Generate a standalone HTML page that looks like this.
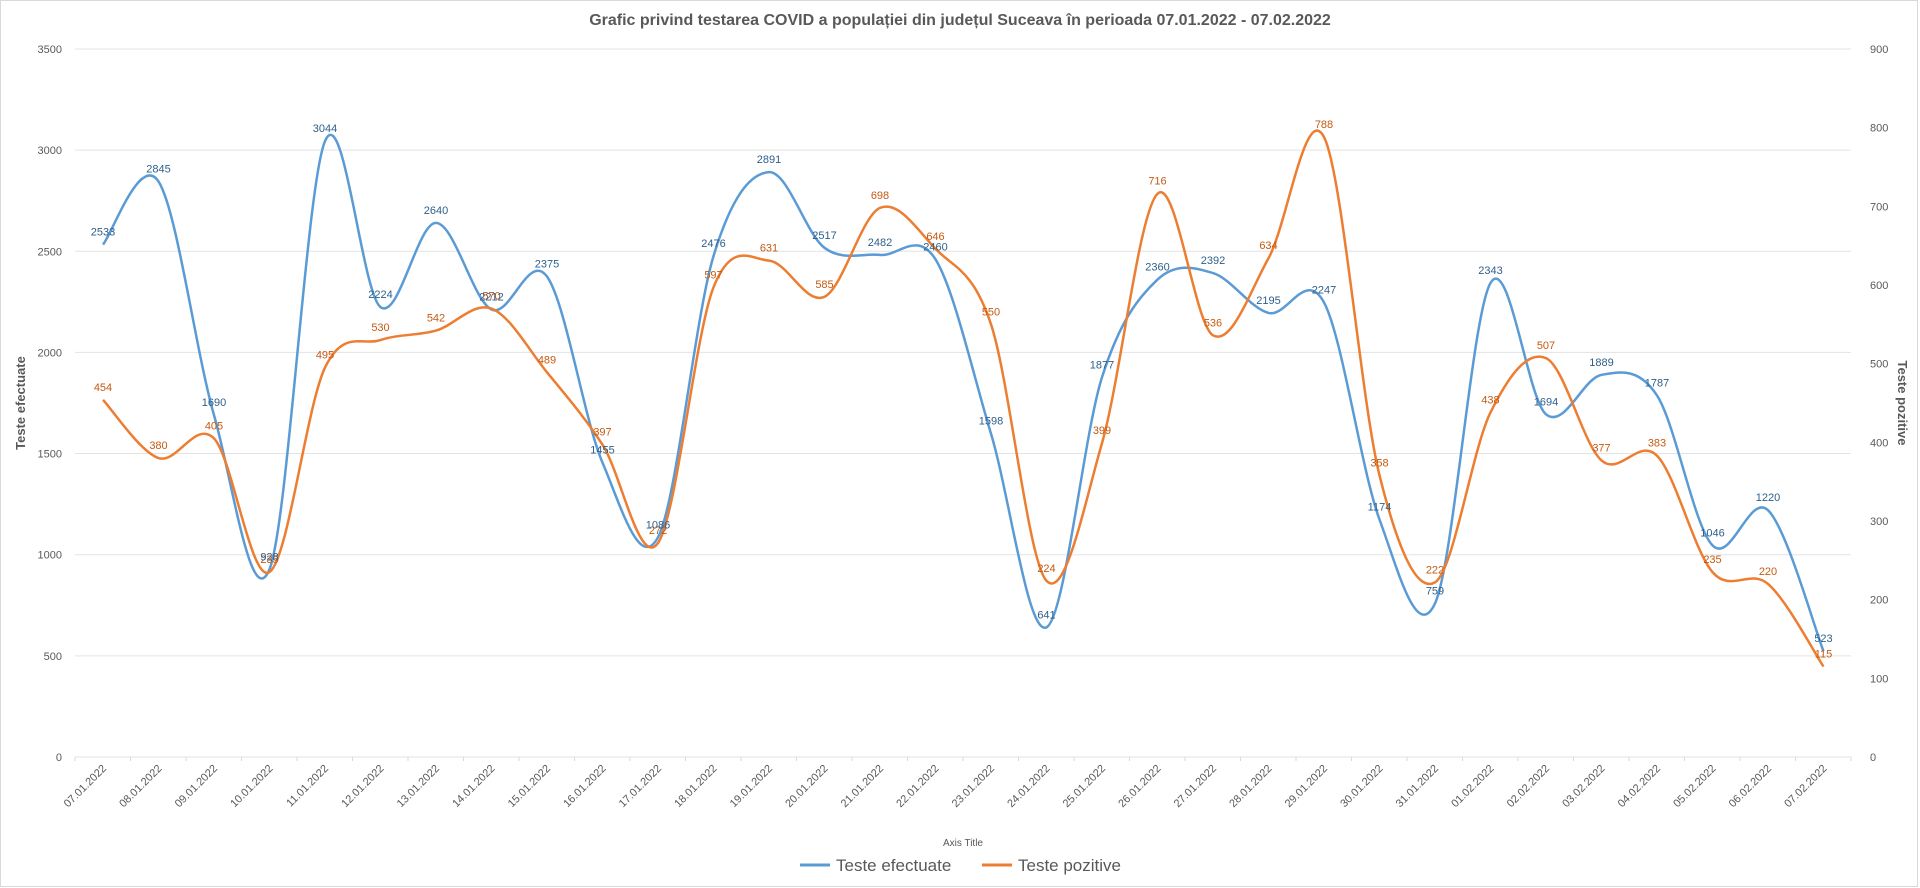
<!DOCTYPE html>
<html><head><meta charset="utf-8"><style>
body{margin:0;background:#fff;}
svg{display:block;font-family:"Liberation Sans",sans-serif;}
</style></head><body>
<svg id="s" width="1920" height="888" xmlns="http://www.w3.org/2000/svg">
<rect x="0.5" y="0.5" width="1917" height="886" fill="#fff" stroke="#d9d9d9"/>
<text x="960" y="25" text-anchor="middle" font-size="16" font-weight="bold" fill="#595959">Grafic privind testarea COVID a populației din județul Suceava în perioada 07.01.2022  - 07.02.2022</text>
<g id="grid"></g>
<text transform="translate(25,403) rotate(-90)" text-anchor="middle" font-size="13" font-weight="bold" fill="#595959">Teste efectuate</text>
<text transform="translate(1898,403) rotate(90)" text-anchor="middle" font-size="13" font-weight="bold" fill="#595959">Teste pozitive</text>
<text x="963" y="846" text-anchor="middle" font-size="10" fill="#595959">Axis Title</text>
<line x1="800" y1="865" x2="830" y2="865" stroke="#5b9bd5" stroke-width="3"/>
<text x="836" y="871" font-size="17" fill="#595959">Teste efectuate</text>
<line x1="982" y1="865" x2="1012" y2="865" stroke="#ed7d31" stroke-width="3"/>
<text x="1018" y="871" font-size="17" fill="#595959">Teste pozitive</text>
<g id="plot"></g>
</svg>
<script>
var ns="http://www.w3.org/2000/svg";
function el(p,t,a,txt){var e=document.createElementNS(ns,t);for(var k in a)e.setAttribute(k,a[k]);if(txt!=null)e.textContent=txt;p.appendChild(e);return e;}
var g=document.getElementById('grid'),p=document.getElementById('plot');
var y0=757,L=75,R=1851;
for(var v=0;v<=3500;v+=500){var y=y0-v*0.2023;el(g,'line',{x1:L,x2:R,y1:y,y2:y,stroke:'#e3e3e3','stroke-width':1});el(g,'text',{x:62,y:y+4,'text-anchor':'end','font-size':11,fill:'#595959'},v);}
for(var v=0;v<=900;v+=100){var y=y0-v*0.7867;el(g,'text',{x:1870,y:y+4,'font-size':11,fill:'#595959'},v);}
var b=[2533,2845,1690,928,3044,2224,2640,2212,2375,1455,1086,2476,2891,2517,2482,2460,1598,641,1877,2360,2392,2195,2247,1174,759,2343,1694,1889,1787,1046,1220,523];
var o=[454,380,405,235,495,530,542,570,489,397,272,597,631,585,698,646,550,224,399,716,536,634,788,358,222,438,507,377,383,235,220,115];
var dates=[];for(var i=7;i<=31;i++)dates.push((i<10?'0':'')+i+'.01.2022');for(var i=1;i<=7;i++)dates.push('0'+i+'.02.2022');
for(var i=0;i<=32;i++){var x=L+i*55.5;el(g,'line',{x1:x,x2:x,y1:y0,y2:y0+4,stroke:'#d9d9d9'});}
dates.forEach(function(d,i){var x=103+i*55.5;el(g,'text',{transform:'translate('+(x+4)+','+(y0+12)+') rotate(-45)','text-anchor':'end','font-size':11,fill:'#595959'},d);});
function path(pts){var s='M'+pts[0][0]+','+pts[0][1];for(var i=0;i<pts.length-1;i++){var p0=pts[Math.max(i-1,0)],p1=pts[i],p2=pts[i+1],p3=pts[Math.min(i+2,pts.length-1)];var c1=[p1[0]+(p2[0]-p0[0])/6,p1[1]+(p2[1]-p0[1])/6],c2=[p2[0]-(p3[0]-p1[0])/6,p2[1]-(p3[1]-p1[1])/6];s+=' C'+c1+' '+c2+' '+p2;}return s;}
var bp=b.map(function(v,i){return[103+i*55.5,y0-v*0.2023];});
var op=o.map(function(v,i){return[103+i*55.5,y0-v*0.7867];});
el(p,'path',{d:path(bp),fill:'none',stroke:'#5b9bd5','stroke-width':2.5});
el(p,'path',{d:path(op),fill:'none',stroke:'#ed7d31','stroke-width':2.5});
op.forEach(function(q,i){el(p,'text',{x:q[0],y:q[1]-9,'text-anchor':'middle','font-size':11,fill:'#c55a11'},o[i]);});
bp.forEach(function(q,i){el(p,'text',{x:q[0],y:q[1]-9,'text-anchor':'middle','font-size':11,fill:'#2e5f8a'},b[i]);});
</script>
</body></html>
